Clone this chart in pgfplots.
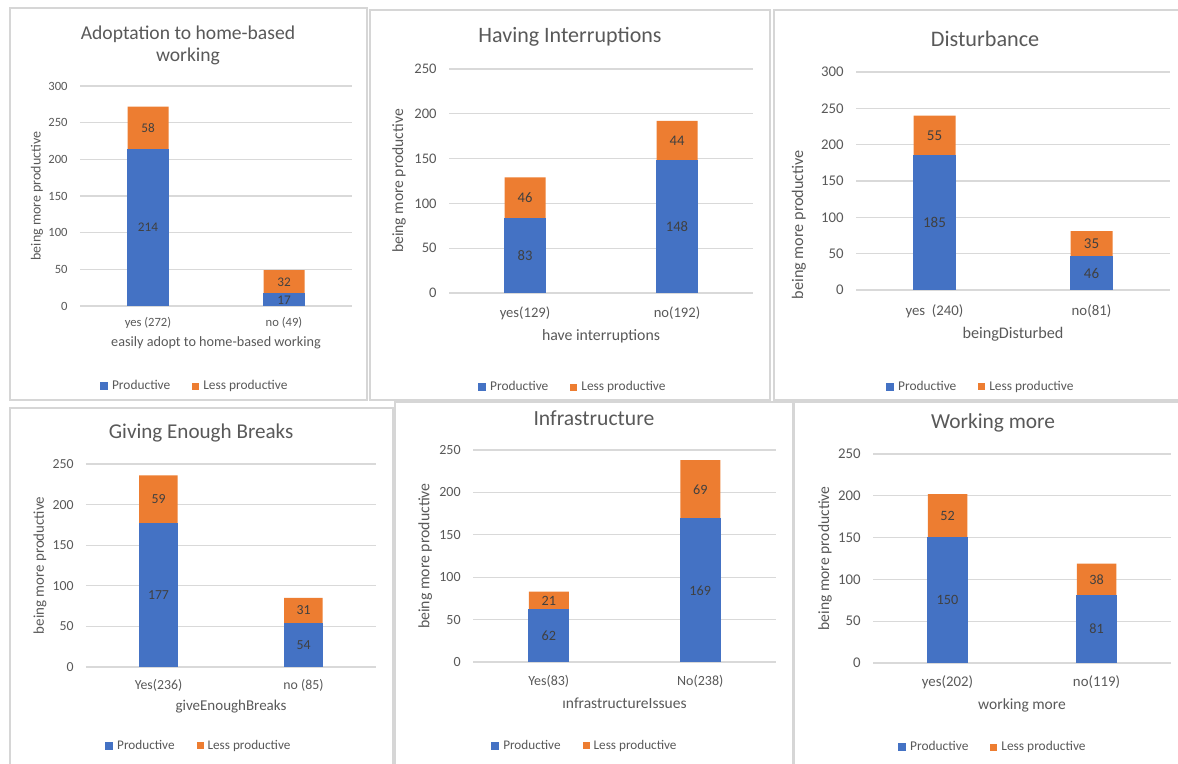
\documentclass[border=0pt]{standalone}
\usepackage{fontspec}
\setmainfont{Carlito}
\usepackage{pgfplots}
\pgfplotsset{compat=1.18}
\definecolor{cB}{HTML}{4472C4}
\definecolor{cO}{HTML}{ED7D31}
\definecolor{txt}{HTML}{595959}
\definecolor{dlbl}{HTML}{404040}
\definecolor{grd}{HTML}{D9D9D9}
\definecolor{frm}{HTML}{D6D6D6}
\newcommand\fs[1]{\fontsize{#1}{11}\selectfont}
\pgfplotsset{
  barB/.style={ybar, bar shift=0pt, fill=cB, draw=cB, line width=0.4pt},
  barO/.style={ybar, bar shift=0pt, fill=cO, draw=none},
  lbl/.style={forget plot, draw=none, nodes near coords, point meta=explicit symbolic,
     every node near coord/.append style={anchor=center, text=dlbl, font=\fs{#1}}},
  panel/.style={
    scale only axis, anchor=south west,
    xmin=-0.5, xmax=1.5, ymin=0, xtick={0,1},
    axis line style={draw=none}, major tick length=0pt,
    ymajorgrids, grid style={draw=grd, line width=0.6pt},
    /pgf/number format/assume math mode=true,
    tick label style={text=txt},
    yticklabel style={anchor=east, inner sep=0pt, xshift=-6pt},
    xticklabel style={anchor=center},
    label style={text=txt},
    xlabel style={anchor=center},
    ylabel style={anchor=center},
    every axis title shift=0pt,
    title style={anchor=center, align=center, text=txt},
    legend columns=2,
    legend style={draw=none, fill=none, anchor=center, text=txt,
       /tikz/every even column/.append style={column sep=9pt}},
    legend image code/.code={\fill[##1] (0pt,-1.75pt) rectangle (3.5pt,1.75pt);},
  },
}
\begin{document}
\begin{tikzpicture}
\useasboundingbox (0,0) rectangle (589pt,382pt);
\fill[white] (0,0) rectangle (589pt,382pt);
% panel frames
\draw[frm, line width=0.7pt] (5pt,182pt) rectangle (183.5pt,378pt);
\draw[frm, line width=0.7pt] (185pt,182pt) rectangle (385pt,377pt);
\draw[frm, line width=0.7pt] (387pt,182pt) rectangle (592pt,377pt);
\draw[frm, line width=0.7pt] (5pt,-3pt) rectangle (196.5pt,178pt);
\draw[frm, line width=0.7pt] (197.5pt,-3pt) rectangle (396.5pt,181pt);
\draw[frm, line width=0.7pt] (397pt,-3pt) rectangle (592pt,181pt);

% Panel 1
\begin{axis}[panel, at={(40pt,229pt)}, width=136pt, height=110pt,
  ymax=300, ytick={0,50,...,300}, bar width=20.5pt,
  tick label style={font=\fs{6.3}},
  xticklabels={yes (272), no (49)}, xticklabel style={yshift=-8.5pt},
  xlabel={easily adopt to home-based working}, xlabel style={at={(0.5,-0.168)}, font=\fs{7.1}},
  ylabel={being more productive}, ylabel style={at={(-0.158,0.5)}, font=\fs{7}},
  title={Adoptation to home-based\\working}, title style={at={(0.397,1.186)}, font=\fs{9.8}},
  legend style={at={(0.426,-0.364)}, font=\fs{6.7}}]
\addplot[barO, forget plot] coordinates {(0,272) (1,49)};
\addplot[barB] coordinates {(0,214) (1,17)};
\addlegendentry{Productive}
\addlegendimage{barO}
\addlegendentry{Less productive}
\addplot[lbl=6.6] coordinates {(0,107) [214] (1,8.5) [17] (0,243) [58] (1,33) [32]};
\end{axis}

% Panel 2
\begin{axis}[panel, at={(224.5pt,235.5pt)}, width=152pt, height=112pt,
  ymax=250, ytick={0,50,...,250}, bar width=20.5pt,
  tick label style={font=\fs{7.3}},
  xticklabels={yes(129), no(192)}, xticklabel style={yshift=-10pt},
  xlabel={have interruptions}, xlabel style={at={(0.5,-0.192)}, font=\fs{7.9}},
  ylabel={being more productive}, ylabel style={at={(-0.164,0.5)}, font=\fs{7.8}},
  title={Having Interruptions}, title style={at={(0.398,1.143)}, font=\fs{11}},
  legend style={at={(0.411,-0.42)}, font=\fs{6.7}}]
\addplot[barO, forget plot] coordinates {(0,129) (1,192)};
\addplot[barB] coordinates {(0,83) (1,148)};
\addlegendentry{Productive}
\addlegendimage{barO}
\addlegendentry{Less productive}
\addplot[lbl=7.3] coordinates {(0,41.5) [83] (1,74) [148] (0,106) [46] (1,170) [44]};
\end{axis}

% Panel 3
\begin{axis}[panel, at={(428pt,237pt)}, width=157pt, height=109pt,
  ymax=300, ytick={0,50,...,300}, bar width=21pt,
  tick label style={font=\fs{7.4}},
  xticklabels={yes\ \ (240), no(81)}, xticklabel style={yshift=-10.5pt},
  xlabel={beingDisturbed}, xlabel style={at={(0.5,-0.202)}, font=\fs{8.1}},
  ylabel={being more productive}, ylabel style={at={(-0.182,0.30)}, font=\fs{8.1}},
  title={Disturbance}, title style={at={(0.411,1.151)}, font=\fs{11.1}},
  legend style={at={(0.401,-0.445)}, font=\fs{6.7}}]
\addplot[barO, forget plot] coordinates {(0,240) (1,81)};
\addplot[barB] coordinates {(0,185) (1,46)};
\addlegendentry{Productive}
\addlegendimage{barO}
\addlegendentry{Less productive}
\addplot[lbl=7.5] coordinates {(0,92.5) [185] (1,23) [46] (0,212.5) [55] (1,63.5) [35]};
\end{axis}

% Panel 4
\begin{axis}[panel, at={(43pt,48.5pt)}, width=145pt, height=101.5pt,
  ymax=250, ytick={0,50,...,250}, bar width=19.25pt,
  tick label style={font=\fs{6.9}},
  xticklabels={Yes(236), no (85)}, xticklabel style={yshift=-9pt},
  xlabel={giveEnoughBreaks}, xlabel style={at={(0.5,-0.197)}, font=\fs{7.5}},
  ylabel={being more productive}, ylabel style={at={(-0.159,0.5)}, font=\fs{7.45}},
  title={Giving Enough Breaks}, title style={at={(0.397,1.153)}, font=\fs{10.55}},
  legend style={at={(0.393,-0.389)}, font=\fs{6.6}}]
\addplot[barO, forget plot] coordinates {(0,236) (1,85)};
\addplot[barB] coordinates {(0,177) (1,54)};
\addlegendentry{Productive}
\addlegendimage{barO}
\addlegendentry{Less productive}
\addplot[lbl=6.9] coordinates {(0,88.5) [177] (1,27) [54] (0,206.5) [59] (1,69.5) [31]};
\end{axis}

% Panel 5
\begin{axis}[panel, at={(236.5pt,51pt)}, width=151.5pt, height=106pt,
  ymax=250, ytick={0,50,...,250}, bar width=20pt,
  tick label style={font=\fs{7}},
  xticklabels={Yes(83), No(238)}, xticklabel style={yshift=-9.5pt},
  xlabel={ınfrastructureIssues}, xlabel style={at={(0.5,-0.193)}, font=\fs{7.75}},
  ylabel={being more productive}, ylabel style={at={(-0.158,0.5)}, font=\fs{7.9}},
  title={Infrastructure}, title style={at={(0.399,1.151)}, font=\fs{10.8}},
  legend style={at={(0.373,-0.396)}, font=\fs{6.6}}]
\addplot[barO, forget plot] coordinates {(0,83) (1,238)};
\addplot[barB] coordinates {(0,62) (1,169)};
\addlegendentry{Productive}
\addlegendimage{barO}
\addlegendentry{Less productive}
\addplot[lbl=7.1] coordinates {(0,31) [62] (1,84.5) [169] (0,72.5) [21] (1,203.5) [69]};
\end{axis}

% Panel 6
\begin{axis}[panel, at={(436.5pt,50.5pt)}, width=149pt, height=104.5pt,
  ymax=250, ytick={0,50,...,250}, bar width=19.75pt,
  tick label style={font=\fs{7.4}},
  xticklabels={yes(202), no(119)}, xticklabel style={yshift=-9.5pt},
  xlabel={working more}, xlabel style={at={(0.5,-0.201)}, font=\fs{7.75}},
  ylabel={being more productive}, ylabel style={at={(-0.161,0.5)}, font=\fs{7.8}},
  title={Working more}, title style={at={(0.403,1.148)}, font=\fs{10.7}},
  legend style={at={(0.406,-0.402)}, font=\fs{6.7}}]
\addplot[barO, forget plot] coordinates {(0,202) (1,119)};
\addplot[barB] coordinates {(0,150) (1,81)};
\addlegendentry{Productive}
\addlegendimage{barO}
\addlegendentry{Less productive}
\addplot[lbl=7.1] coordinates {(0,75) [150] (1,40.5) [81] (0,176) [52] (1,100) [38]};
\end{axis}
\end{tikzpicture}
\end{document}
